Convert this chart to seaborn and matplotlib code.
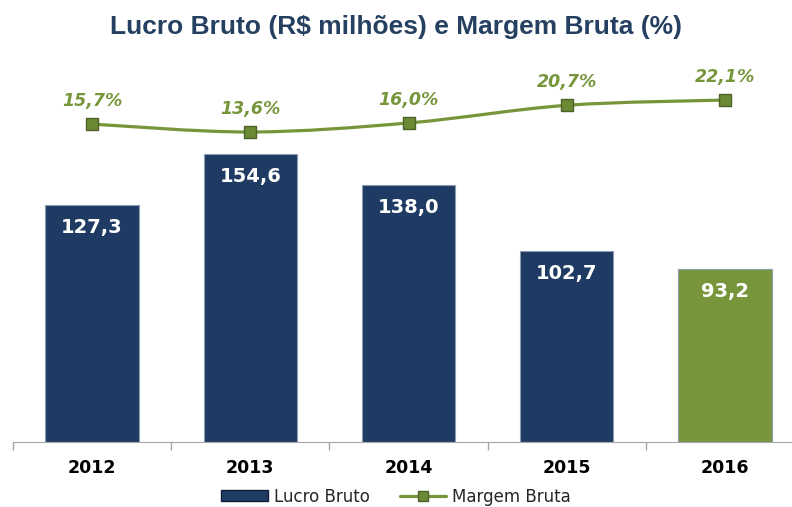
import numpy as np
import pandas as pd
import seaborn as sns
import matplotlib.pyplot as plt
from matplotlib.path import Path
from matplotlib.patches import PathPatch, Patch
from matplotlib.lines import Line2D

# ------------------- Data -------------------
anos = ['2012', '2013', '2014', '2015', '2016']
lucro_bruto = [127.3, 154.6, 138.0, 102.7, 93.2]
margem_bruta = [15.7, 13.6, 16.0, 20.7, 22.1]

azul = '#1f3b63'
verde = '#77963b'
verde_escuro = '#4f6228'
cores_barras = [azul, azul, azul, azul, verde]

df = pd.DataFrame({'Ano': anos, 'Lucro': lucro_bruto, 'Margem': margem_bruta})
df['pos'] = np.arange(len(df))

sns.set_style('white')
plt.rcParams['font.family'] = ['DejaVu Sans']

fig = plt.figure(figsize=(7.92, 5.07), dpi=100)
ax = fig.add_axes([13 / 792, 65 / 507, 791 / 792, 382 / 507])

# ------------------- Bars -------------------
sns.barplot(data=df, x='Ano', y='Lucro', hue='Ano', palette=cores_barras,
            legend=False, width=0.59, edgecolor='#8d9bb0', linewidth=0.8,
            saturation=1, ax=ax)
ax.set_xlim(-0.5, 4.5)
ax.set_ylim(0, 205.4)

for i, v in enumerate(lucro_bruto):
    ax.annotate(f'{v:.1f}'.replace('.', ','), (i, v), xytext=(0, -13),
                textcoords='offset pixels', ha='center', va='top',
                color='white', fontsize=14, fontweight='bold')

for s in ['top', 'right', 'left']:
    ax.spines[s].set_visible(False)
ax.spines['bottom'].set_color('#a6a6a6')
ax.set_yticks([])
ax.set_xlabel('')
ax.set_ylabel('')
ax.set_xticks(np.arange(len(anos)))
ax.set_xticklabels(anos, fontsize=12.5, fontweight='bold', color='black')
ax.tick_params(axis='x', which='major', length=0, pad=12)
# category boundary ticks
ax.set_xticks(np.arange(-0.5, 4.6, 1), minor=True)
ax.tick_params(axis='x', which='minor', bottom=True, length=6,
               color='#a6a6a6', width=1)

# ------------------- Smoothed line (secondary axis) -------------------
ax2 = ax.twinx()
ax2.set_ylim(-68.85, 32.75)
ax2.set_xlim(-0.5, 4.5)
ax2.axis('off')

pts = np.column_stack([df['pos'], df['Margem']])
ext = np.vstack([pts[0], pts, pts[-1]])
verts = [pts[0]]
codes = [Path.MOVETO]
for i in range(len(pts) - 1):
    p0, p1, p2, p3 = ext[i], ext[i + 1], ext[i + 2], ext[i + 3]
    verts += [p1 + (p2 - p0) / 6, p2 - (p3 - p1) / 6, p2]
    codes += [Path.CURVE4] * 3
ax2.add_patch(PathPatch(Path(verts, codes), fill=False, edgecolor=verde,
                        lw=2.3, capstyle='round'))

sns.scatterplot(data=df, x='pos', y='Margem', marker='s', s=70,
                color='#6a8a34', edgecolor=verde_escuro, linewidth=1,
                zorder=5, ax=ax2)
ax2.set_xlabel('')
ax2.set_ylabel('')

for i, v in enumerate(margem_bruta):
    ax2.annotate(f'{v:.1f}%'.replace('.', ','), (i, v), xytext=(0, 23),
                 textcoords='offset pixels', ha='center', va='center',
                 color=verde, fontsize=12.5, fontweight='bold', style='italic')

# ------------------- Title and legend -------------------
fig.text(0.5, 1 - 27 / 507, 'Lucro Bruto (R$ milhões) e Margem Bruta (%)',
         ha='center', va='center', fontsize=19, fontweight='bold',
         color='#254061', family='Liberation Sans')

handles = [Patch(facecolor=azul, edgecolor='#0f1f38'),
           Line2D([0], [0], color=verde, lw=2.3, marker='s', markersize=7,
                  markerfacecolor='#6a8a34', markeredgecolor=verde_escuro)]
fig.legend(handles, ['Lucro Bruto', 'Margem Bruta'], loc='center',
           bbox_to_anchor=(0.5, 10.5 / 507), ncol=2, frameon=False,
           fontsize=12, handlelength=2.8, handleheight=0.6,
           handletextpad=0.35, columnspacing=1.8, borderpad=0.1)

fig.savefig('out.png', dpi=100)
